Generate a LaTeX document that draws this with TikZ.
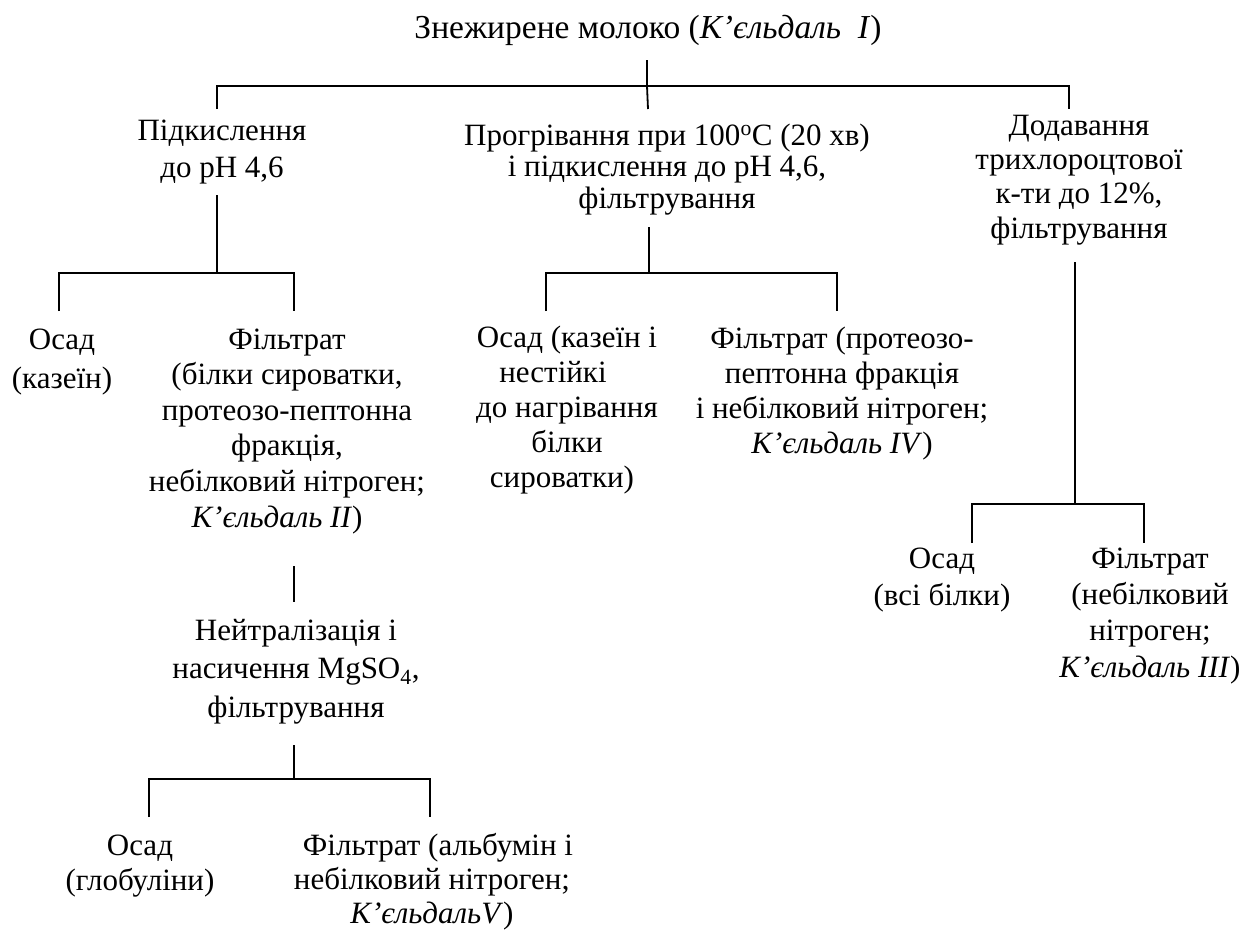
\documentclass[tikz,border=0pt]{standalone}
\usepackage{fontspec}
\setmainfont{Liberation Serif}
\begin{document}
\begin{tikzpicture}[x=1pt,y=-1pt,
  lbl/.style={anchor=base,align=center,inner sep=0pt,font=\fontsize{31}{#1}\selectfont},
  lbl/.default=35,
  conn/.style={line width=1.8pt,black}]
\useasboundingbox[fill=white] (0,0) rectangle (1244,930);
% nodes (anchor = baseline of the last line)
\node[anchor=base,inner sep=0pt,font=\fontsize{33.5}{36}\selectfont] (title) at (648,38) {Знежирене молоко (\textit{К’єльдаль\ \ I})};
\node[lbl=37] (acid) at (222,177) {Підкислення\\до pH 4,6};
\node[lbl=31.5] (heat) at (667,208) {Прогрівання при 100\textsuperscript{o}C (20 хв)\\і підкислення до pH 4,6,\\фільтрування};
\node[lbl=34.3] (tca) at (1079,238) {Додавання\\трихлороцтової\\к-ти до 12\%,\\фільтрування};
\node[lbl=39] (os1) at (62,388) {Осад\\(казеїн)};
\node[lbl=35.6] (f1) at (287,527) {Фільтрат\\(білки сироватки,\\протеозо-пептонна\\фракція,\hspace*{20pt}\\небілковий нітроген;\\\textit{К’єльдаль II})\hspace*{20pt}};
\node[lbl=34.8] (os2) at (567,487) {Осад (казеїн і\\\makebox[0pt][c]{\hspace*{-28pt}нестійкі}\\до нагрівання\\білки\\сироватки)\hspace*{10pt}};
\node[lbl=35] (f2) at (842,453) {Фільтрат (протеозо-\\пептонна фракція\\і небілковий нітроген;\\\textit{К’єльдаль IV})};
\node[lbl=38.5] (neut) at (296,717) {Нейтралізація і\\насичення MgSO\textsubscript{4},\\фільтрування};
\node[lbl=35] (os3) at (140,890) {Осад\\(глобуліни)};
\node[lbl=34] (f3) at (432,923) {\hspace*{12pt}Фільтрат (альбумін і\\небілковий нітроген;\\\textit{К’єльдальV})};
\node[lbl=37] (os4) at (942,605) {Осад\\(всі білки)};
\node[lbl=36.3] (f4) at (1150,677) {Фільтрат\\(небілковий\\нітроген;\hspace*{16pt}\\\textit{К’єльдаль III})};
% junction coordinates
\coordinate (t0) at (647,60);
\coordinate (t1) at (647,86);
\coordinate (ta) at (217,109);
\coordinate (tb) at (648,109);
\coordinate (tc) at (1069,109);
\coordinate (a0) at (217,195);
\coordinate (a1) at (217,273);
\coordinate (aL) at (59,311);
\coordinate (aR) at (294,311);
\coordinate (h0) at (649,227);
\coordinate (h1) at (649,273);
\coordinate (hL) at (546,311);
\coordinate (hR) at (837,311);
\coordinate (c0) at (1075,262);
\coordinate (c1) at (1075,504);
\coordinate (cL) at (972,543);
\coordinate (cR) at (1144,543);
\coordinate (n0) at (294,566);
\coordinate (n1) at (294,602);
\coordinate (m0) at (294,745);
\coordinate (m1) at (294,779);
\coordinate (mL) at (149,817);
\coordinate (mR) at (430,817);
% connectors
\draw[conn] (t0) -- (t1);
\draw[conn] (ta) |- (t1) -| (tc);
\draw[conn] (t1) -- (tb);
\draw[conn] (a0) -- (a1);
\draw[conn] (aL) |- (a1) -| (aR);
\draw[conn] (h0) -- (h1);
\draw[conn] (hL) |- (h1) -| (hR);
\draw[conn] (c0) -- (c1);
\draw[conn] (cL) |- (c1) -| (cR);
\draw[conn] (n0) -- (n1);
\draw[conn] (m0) -- (m1);
\draw[conn] (mL) |- (m1) -| (mR);
\end{tikzpicture}
\end{document}
